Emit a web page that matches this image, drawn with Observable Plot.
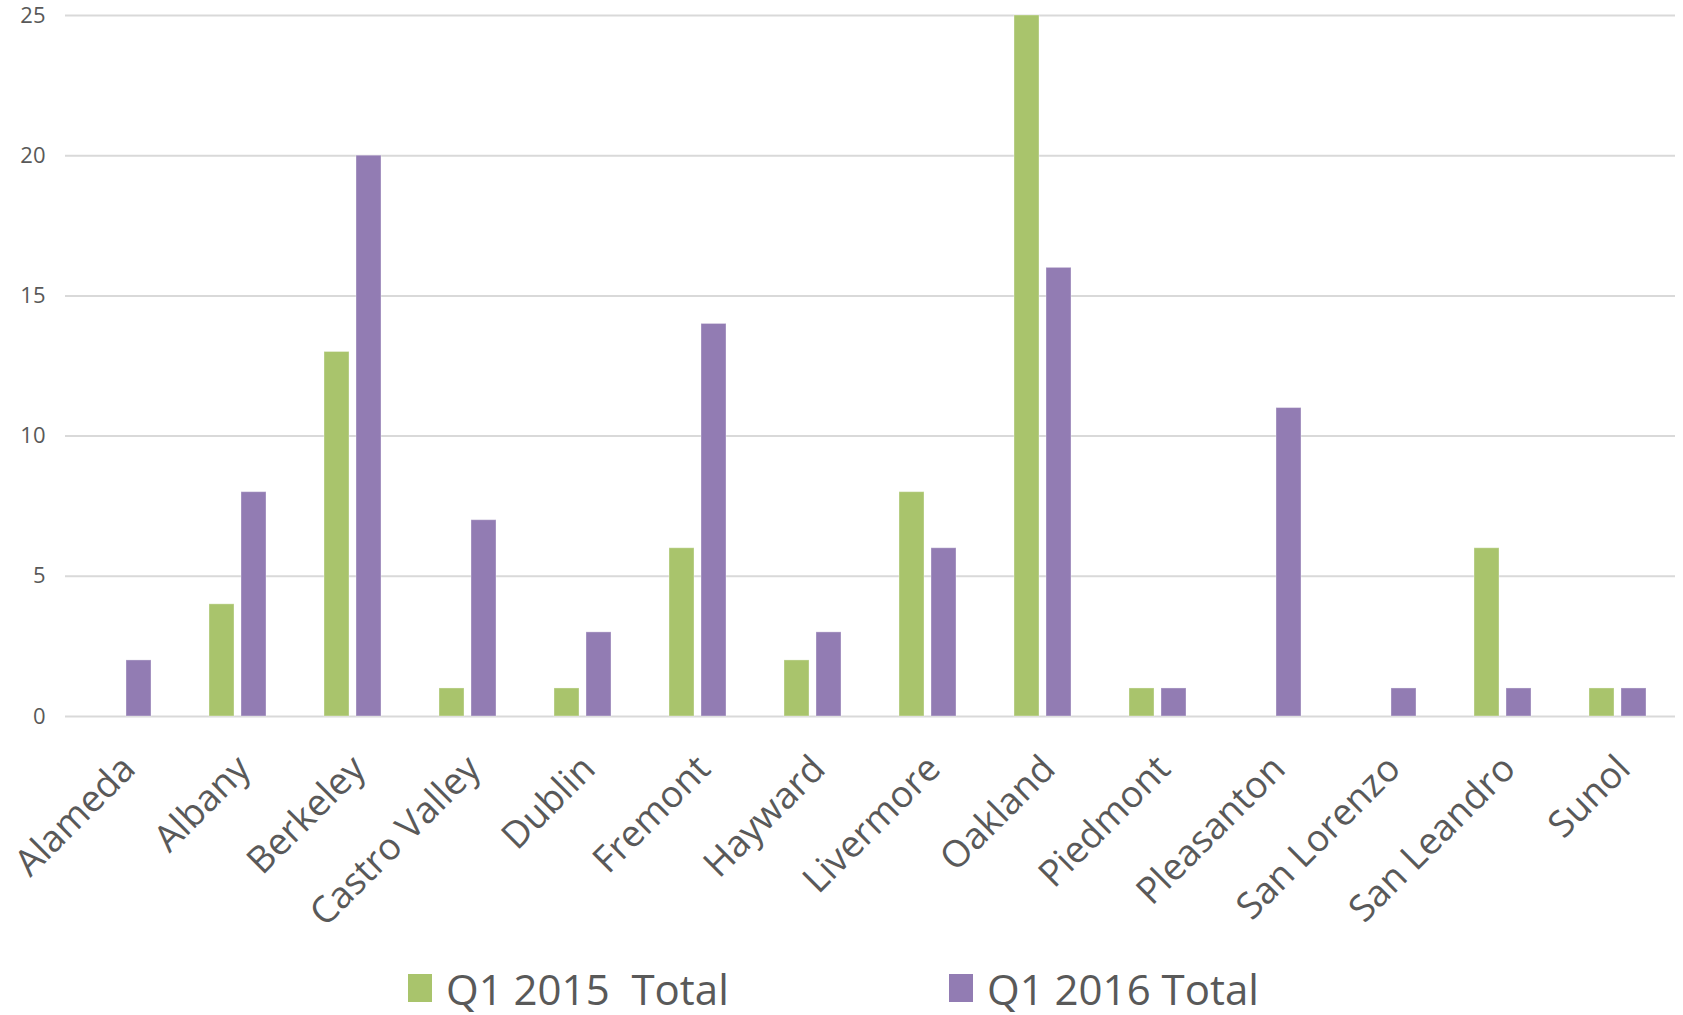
<!DOCTYPE html>
<html>
<head>
<meta charset="utf-8">
<script src="https://cdn.jsdelivr.net/npm/d3@7"></script>
<script src="https://cdn.jsdelivr.net/npm/@observablehq/plot@0.6"></script>
<style>
  html, body { margin: 0; padding: 0; background: #fff; }
  #chart svg { display: block; }
  g[aria-label^="fx-axis"] text { font-size: 37px; fill: #595959; }
  g[aria-label^="y-axis"] text { font-size: 22px; fill: #595959; }
  #legend { position: relative; height: 60px; margin-top: 8px; font-family: "Open Sans", sans-serif; font-size: 42px; color: #595959; white-space: pre; }
  .item { display: flex; align-items: center; position: absolute; top: 0; height: 60px; }
  .sw { width: 24px; height: 28px; margin-right: 14px; }
</style>
</head>
<body>
<div id="chart"></div>
<div id="legend"></div>
<script>
const cities = ["Alameda","Albany","Berkeley","Castro Valley","Dublin","Fremont","Hayward","Livermore","Oakland","Piedmont","Pleasanton","San Lorenzo","San Leandro","Sunol"];
const series = ["Q1 2015  Total", "Q1 2016 Total"];
const q1_2015 = [0, 4, 13, 1, 1, 6, 2, 8, 25, 1, 0, 0, 6, 1];
const q1_2016 = [2, 8, 20, 7, 3, 14, 3, 6, 16, 1, 11, 1, 1, 1];
const colors = ["#a9c46c", "#927cb3"];
const yTicks = [0, 5, 10, 15, 20, 25];

const rows = [];
cities.forEach((c, i) => {
  rows.push({city: c, series: series[0], value: q1_2015[i]});
  rows.push({city: c, series: series[1], value: q1_2016[i]});
});

const chart = Plot.plot({
  width: 1683,
  height: 950,
  marginLeft: 65,
  marginRight: 8,
  marginTop: 15,
  marginBottom: 234,
  style: {fontFamily: "'Open Sans', sans-serif", color: "#595959", background: "#fff"},
  facet: {data: rows, x: "city"},
  fx: {domain: cities, padding: 0, label: null, tickRotate: -45, tickSize: 0, tickPadding: 46},
  x: {domain: series, axis: null, paddingInner: 0.21, paddingOuter: 0.85},
  y: {domain: [0, 25], ticks: yTicks, label: null, tickSize: 0, tickPadding: 20},
  color: {domain: series, range: colors},
  marks: [
    Plot.ruleY(yTicks, {stroke: "#d9d9d9", strokeWidth: 2}),
    Plot.barY(rows, {filter: d => d.value > 0, x: "series", y: "value", fill: "series", stroke: "#ffffff", strokeOpacity: 0.35, strokeWidth: 1})
  ]
});
// nudge the rotated city labels slightly right, as in the reference
chart.querySelectorAll('g[aria-label^="fx-axis"]').forEach(g => {
  const t = g.getAttribute("transform") || "";
  g.setAttribute("transform", (t + " translate(6,0)").trim());
});
document.getElementById("chart").appendChild(chart);

const legend = document.getElementById("legend");
const legendX = [408, 949];
series.forEach((s, i) => {
  const item = document.createElement("div");
  item.className = "item";
  item.style.left = legendX[i] + "px";
  const sw = document.createElement("span");
  sw.className = "sw";
  sw.style.background = colors[i];
  const t = document.createElement("span");
  t.textContent = s;
  item.appendChild(sw);
  item.appendChild(t);
  legend.appendChild(item);
});
</script>
</body>
</html>
